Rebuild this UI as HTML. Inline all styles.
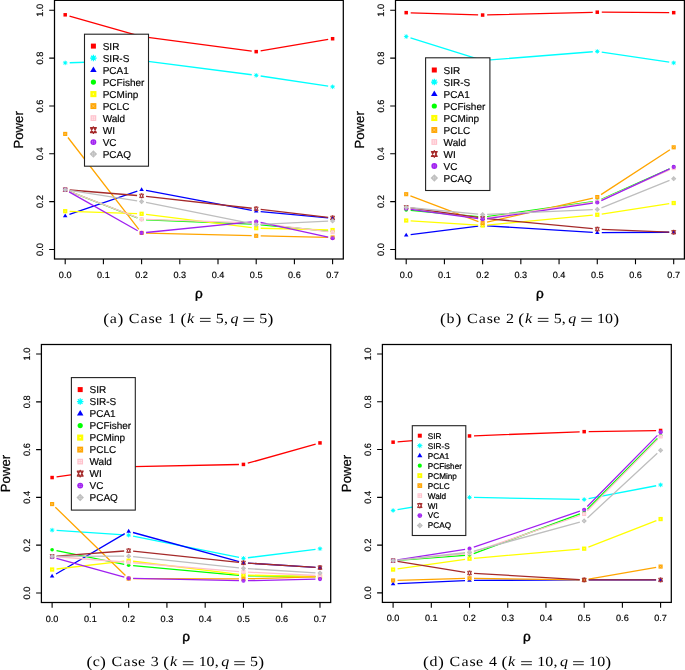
<!DOCTYPE html>
<html><head><meta charset="utf-8"><style>
html,body{margin:0;padding:0;background:#fff;}
body{width:685px;height:670px;overflow:hidden;}
svg{display:block;will-change:transform;}
text{text-rendering:geometricPrecision;}
.s{font-family:"Liberation Sans",sans-serif;fill:#000;}
.c{font-family:"Liberation Serif",serif;fill:#000;}
.t{stroke:#000;stroke-width:0.17px;}
.t2{stroke:#000;stroke-width:0.22px;}
.t3{stroke:#000;stroke-width:0.4px;}
</style></head><body>
<svg width="685" height="670" viewBox="0 0 685 670">
<rect width="685" height="670" fill="#fff"/>
<path d="M69.52 16.04L137.27 35.34M146.06 37.16L251.74 51.06M260.64 50.89L328.17 39.48" stroke="#FF0000" stroke-width="1.3" fill="none"/>
<rect x="63.45" y="13.06" width="3.5" height="3.5" fill="#FF0000"/>
<rect x="139.85" y="34.82" width="3.5" height="3.5" fill="#FF0000"/>
<rect x="254.45" y="49.89" width="3.5" height="3.5" fill="#FF0000"/>
<rect x="330.85" y="36.98" width="3.5" height="3.5" fill="#FF0000"/>
<path d="M69.69 62.74L137.1 60.63M146.06 61.07L251.74 74.74M260.65 75.99L328.15 86.13" stroke="#00FFFF" stroke-width="1.3" fill="none"/>
<path d="M62.92 62.88H67.47M65.2 60.61V65.16M63.59 61.27L66.8 64.49M63.59 64.49L66.8 61.27" stroke="#00FFFF" stroke-width="0.88" fill="none"/><circle cx="65.2" cy="62.88" r="1.31" fill="#00FFFF"/>
<path d="M139.32 60.49H143.87M141.6 58.22V62.77M139.99 58.88L143.21 62.1M139.99 62.1L143.21 58.88" stroke="#00FFFF" stroke-width="0.88" fill="none"/><circle cx="141.6" cy="60.49" r="1.31" fill="#00FFFF"/>
<path d="M253.93 75.32H258.48M256.2 73.04V77.59M254.59 73.71L257.81 76.93M254.59 76.93L257.81 73.71" stroke="#00FFFF" stroke-width="0.88" fill="none"/><circle cx="256.2" cy="75.32" r="1.31" fill="#00FFFF"/>
<path d="M330.33 86.8H334.88M332.6 84.52V89.07M331 85.19L334.21 88.41M331 88.41L334.21 85.19" stroke="#00FFFF" stroke-width="0.88" fill="none"/><circle cx="332.6" cy="86.8" r="1.31" fill="#00FFFF"/>
<path d="M69.45 214.48L137.34 191.11M146.02 190.47L251.78 210.34M260.68 211.59L328.12 217.92" stroke="#0000FF" stroke-width="1.3" fill="none"/>
<path d="M65.2 213.5L67.47 217.35L62.92 217.35Z" fill="#0000FF"/>
<path d="M141.6 187.19L143.87 191.04L139.32 191.04Z" fill="#0000FF"/>
<path d="M256.2 208.72L258.48 212.57L253.93 212.57Z" fill="#0000FF"/>
<path d="M332.6 215.89L334.88 219.74L330.33 219.74Z" fill="#0000FF"/>
<path d="M69.39 191.28L137.41 217.9M146.09 219.73L251.71 224.13M260.68 224.74L328.12 231.08" stroke="#00FF00" stroke-width="1.3" fill="none"/>
<circle cx="65.2" cy="189.64" r="1.82" fill="#00FF00"/>
<circle cx="141.6" cy="219.54" r="1.82" fill="#00FF00"/>
<circle cx="256.2" cy="224.32" r="1.82" fill="#00FF00"/>
<circle cx="332.6" cy="231.5" r="1.82" fill="#00FF00"/>
<path d="M69.69 211.32L137.1 213.64M146.06 214.36L251.74 227.59M260.7 228.26L328.11 229.95" stroke="#FFFF00" stroke-width="1.3" fill="none"/>
<rect x="63.06" y="209.03" width="4.27" height="4.27" fill="#FFFF00"/><rect x="64.76" y="210.73" width="0.88" height="0.88" fill="#fff" opacity="0.7"/>
<rect x="139.46" y="211.66" width="4.27" height="4.27" fill="#FFFF00"/><rect x="141.16" y="213.36" width="0.88" height="0.88" fill="#fff" opacity="0.7"/>
<rect x="254.07" y="226.01" width="4.27" height="4.27" fill="#FFFF00"/><rect x="255.76" y="227.71" width="0.88" height="0.88" fill="#fff" opacity="0.7"/>
<rect x="330.47" y="227.93" width="4.27" height="4.27" fill="#FFFF00"/><rect x="332.17" y="229.62" width="0.88" height="0.88" fill="#fff" opacity="0.7"/>
<path d="M67.95 137.48L138.85 229.37M146.1 233.04L251.7 235.69M260.7 235.9L328.1 237.38" stroke="#FFA500" stroke-width="1.3" fill="none"/>
<rect x="63.13" y="131.85" width="4.13" height="4.13" fill="#FFA500"/><path d="M64.06 132.78L66.33 135.05M64.06 135.05L66.33 132.78" stroke="#ffd9a0" stroke-width="0.39"/>
<rect x="139.53" y="230.87" width="4.13" height="4.13" fill="#FFA500"/><path d="M140.46 231.8L142.73 234.07M140.46 234.07L142.73 231.8" stroke="#ffd9a0" stroke-width="0.39"/>
<rect x="254.14" y="233.74" width="4.13" height="4.13" fill="#FFA500"/><path d="M255.07 234.67L257.34 236.94M255.07 236.94L257.34 234.67" stroke="#ffd9a0" stroke-width="0.39"/>
<rect x="330.54" y="235.41" width="4.13" height="4.13" fill="#FFA500"/><path d="M331.47 236.34L333.74 238.61M331.47 238.61L333.74 236.34" stroke="#ffd9a0" stroke-width="0.39"/>
<path d="M69.39 191.27L137.4 217.67M146.1 219.45L251.7 222.97M260.67 223.66L328.14 231.68" stroke="#FFC0CB" stroke-width="1.3" fill="none"/>
<rect x="63.2" y="187.65" width="3.99" height="3.99" fill="#FFC0CB"/><rect x="64" y="188.44" width="1" height="1" fill="#fff" opacity="0.6"/><rect x="65.39" y="188.44" width="1" height="1" fill="#fff" opacity="0.6"/><rect x="64" y="189.83" width="1" height="1" fill="#fff" opacity="0.6"/><rect x="65.39" y="189.83" width="1" height="1" fill="#fff" opacity="0.6"/>
<rect x="139.6" y="217.3" width="3.99" height="3.99" fill="#FFC0CB"/><rect x="140.4" y="218.1" width="1" height="1" fill="#fff" opacity="0.6"/><rect x="141.79" y="218.1" width="1" height="1" fill="#fff" opacity="0.6"/><rect x="140.4" y="219.49" width="1" height="1" fill="#fff" opacity="0.6"/><rect x="141.79" y="219.49" width="1" height="1" fill="#fff" opacity="0.6"/>
<rect x="254.21" y="221.13" width="3.99" height="3.99" fill="#FFC0CB"/><rect x="255" y="221.93" width="1" height="1" fill="#fff" opacity="0.6"/><rect x="256.39" y="221.93" width="1" height="1" fill="#fff" opacity="0.6"/><rect x="255" y="223.32" width="1" height="1" fill="#fff" opacity="0.6"/><rect x="256.39" y="223.32" width="1" height="1" fill="#fff" opacity="0.6"/>
<rect x="330.61" y="230.22" width="3.99" height="3.99" fill="#FFC0CB"/><rect x="331.41" y="231.02" width="1" height="1" fill="#fff" opacity="0.6"/><rect x="332.8" y="231.02" width="1" height="1" fill="#fff" opacity="0.6"/><rect x="331.41" y="232.41" width="1" height="1" fill="#fff" opacity="0.6"/><rect x="332.8" y="232.41" width="1" height="1" fill="#fff" opacity="0.6"/>
<path d="M69.68 190.01L137.11 195.49M146.07 196.36L251.73 208.27M260.67 209.31L328.14 217.33" stroke="#A52A2A" stroke-width="1.3" fill="none"/>
<path d="M65.2 187.32L67.21 191.38L63.18 191.38ZM65.2 191.97L67.21 187.9L63.18 187.9Z" stroke="#A52A2A" stroke-width="0.88" fill="none" stroke-linejoin="round"/>
<path d="M141.6 193.54L143.61 197.6L139.59 197.6ZM141.6 198.18L143.61 194.12L139.59 194.12Z" stroke="#A52A2A" stroke-width="0.88" fill="none" stroke-linejoin="round"/>
<path d="M256.2 206.45L258.21 210.52L254.19 210.52ZM256.2 211.1L258.21 207.03L254.19 207.03Z" stroke="#A52A2A" stroke-width="0.88" fill="none" stroke-linejoin="round"/>
<path d="M332.6 215.54L334.62 219.61L330.59 219.61ZM332.6 220.19L334.62 216.12L330.59 216.12Z" stroke="#A52A2A" stroke-width="0.88" fill="none" stroke-linejoin="round"/>
<path d="M69.11 191.86L137.68 230.71M146.08 232.48L251.72 221.9M260.6 222.41L328.21 237.23" stroke="#A020F0" stroke-width="1.3" fill="none"/>
<circle cx="65.2" cy="189.64" r="2.06" fill="#A020F0"/><path d="M64.27 188.71h0.62v0.62h-0.62zM65.51 188.71h0.62v0.62h-0.62zM64.27 189.95h0.62v0.62h-0.62zM65.51 189.95h0.62v0.62h-0.62z" fill="#fff" opacity="0.45"/>
<circle cx="141.6" cy="232.93" r="2.06" fill="#A020F0"/><path d="M140.67 232h0.62v0.62h-0.62zM141.91 232h0.62v0.62h-0.62zM140.67 233.24h0.62v0.62h-0.62zM141.91 233.24h0.62v0.62h-0.62z" fill="#fff" opacity="0.45"/>
<circle cx="256.2" cy="221.45" r="2.06" fill="#A020F0"/><path d="M255.27 220.52h0.62v0.62h-0.62zM256.51 220.52h0.62v0.62h-0.62zM255.27 221.76h0.62v0.62h-0.62zM256.51 221.76h0.62v0.62h-0.62z" fill="#fff" opacity="0.45"/>
<circle cx="332.6" cy="238.19" r="2.06" fill="#A020F0"/><path d="M331.67 237.26h0.62v0.62h-0.62zM332.91 237.26h0.62v0.62h-0.62zM331.67 238.5h0.62v0.62h-0.62zM332.91 238.5h0.62v0.62h-0.62z" fill="#fff" opacity="0.45"/>
<path d="M69.64 190.34L137.15 200.9M146.01 202.48L251.79 223.68M260.7 224.35L328.11 221.18" stroke="#BEBEBE" stroke-width="1.3" fill="none"/>
<path d="M65.2 187.02L67.82 189.64L65.2 192.27L62.57 189.64Z" fill="#BEBEBE"/><path d="M64.28 188.72h0.66v0.66h-0.66zM65.46 188.72h0.66v0.66h-0.66zM64.28 189.9h0.66v0.66h-0.66zM65.46 189.9h0.66v0.66h-0.66z" fill="#fff" opacity="0.45"/>
<path d="M141.6 198.97L144.22 201.6L141.6 204.22L138.97 201.6Z" fill="#BEBEBE"/><path d="M140.68 200.68h0.66v0.66h-0.66zM141.86 200.68h0.66v0.66h-0.66zM140.68 201.86h0.66v0.66h-0.66zM141.86 201.86h0.66v0.66h-0.66z" fill="#fff" opacity="0.45"/>
<path d="M256.2 221.94L258.83 224.56L256.2 227.19L253.58 224.56Z" fill="#BEBEBE"/><path d="M255.28 223.64h0.66v0.66h-0.66zM256.46 223.64h0.66v0.66h-0.66zM255.28 224.82h0.66v0.66h-0.66zM256.46 224.82h0.66v0.66h-0.66z" fill="#fff" opacity="0.45"/>
<path d="M332.6 218.35L335.23 220.97L332.6 223.6L329.98 220.97Z" fill="#BEBEBE"/><path d="M331.68 220.05h0.66v0.66h-0.66zM332.87 220.05h0.66v0.66h-0.66zM331.68 221.23h0.66v0.66h-0.66zM332.87 221.23h0.66v0.66h-0.66z" fill="#fff" opacity="0.45"/>
<rect x="84.5" y="34.2" width="64" height="132" fill="#fff" stroke="#222" stroke-width="1.1"/>
<rect x="90.9" y="43.6" width="5" height="5" fill="#FF0000"/>
<text x="102.7" y="49.7" font-size="10.0" class="s t">SIR</text>
<path d="M90.15 58.1H96.65M93.4 54.85V61.35M91.1 55.8L95.7 60.4M91.1 60.4L95.7 55.8" stroke="#00FFFF" stroke-width="1.25" fill="none"/><circle cx="93.4" cy="58.1" r="1.88" fill="#00FFFF"/>
<text x="102.7" y="61.7" font-size="10.0" class="s t">SIR-S</text>
<path d="M93.4 66.6L96.65 72.1L90.15 72.1Z" fill="#0000FF"/>
<text x="102.7" y="73.7" font-size="10.0" class="s t">PCA1</text>
<circle cx="93.4" cy="82.1" r="2.6" fill="#00FF00"/>
<text x="102.7" y="85.7" font-size="10.0" class="s t">PCFisher</text>
<rect x="90.35" y="91.05" width="6.1" height="6.1" fill="#FFFF00"/><rect x="92.78" y="93.47" width="1.25" height="1.25" fill="#fff" opacity="0.7"/>
<text x="102.7" y="97.7" font-size="10.0" class="s t">PCMinp</text>
<rect x="90.45" y="103.15" width="5.9" height="5.9" fill="#FFA500"/><path d="M91.78 104.48L95.02 107.72M91.78 107.72L95.02 104.48" stroke="#ffd9a0" stroke-width="0.55"/>
<text x="102.7" y="109.7" font-size="10.0" class="s t">PCLC</text>
<rect x="90.55" y="115.25" width="5.7" height="5.7" fill="#FFC0CB"/><rect x="91.69" y="116.39" width="1.43" height="1.43" fill="#fff" opacity="0.6"/><rect x="93.68" y="116.39" width="1.43" height="1.43" fill="#fff" opacity="0.6"/><rect x="91.69" y="118.38" width="1.43" height="1.43" fill="#fff" opacity="0.6"/><rect x="93.68" y="118.38" width="1.43" height="1.43" fill="#fff" opacity="0.6"/>
<text x="102.7" y="121.7" font-size="10.0" class="s t">Wald</text>
<path d="M93.4 126.78L96.28 132.59L90.53 132.59ZM93.4 133.42L96.28 127.61L90.53 127.61Z" stroke="#A52A2A" stroke-width="1.25" fill="none" stroke-linejoin="round"/>
<text x="102.7" y="133.7" font-size="10.0" class="s t">WI</text>
<circle cx="93.4" cy="142.1" r="2.95" fill="#A020F0"/><path d="M92.07 140.77h0.88v0.88h-0.88zM93.84 140.77h0.88v0.88h-0.88zM92.07 142.54h0.88v0.88h-0.88zM93.84 142.54h0.88v0.88h-0.88z" fill="#fff" opacity="0.45"/>
<text x="102.7" y="145.7" font-size="10.0" class="s t">VC</text>
<path d="M93.4 150.35L97.15 154.1L93.4 157.85L89.65 154.1Z" fill="#BEBEBE"/><path d="M92.09 152.79h0.94v0.94h-0.94zM93.78 152.79h0.94v0.94h-0.94zM92.09 154.47h0.94v0.94h-0.94zM93.78 154.47h0.94v0.94h-0.94z" fill="#fff" opacity="0.45"/>
<text x="102.7" y="157.7" font-size="10.0" class="s t">PCAQ</text>
<rect x="54.5" y="0.35" width="288.8" height="258.65" fill="none" stroke="#000" stroke-width="1.25"/>
<text x="65.2" y="278" font-size="9.1" text-anchor="middle" class="s t">0.0</text>
<text x="103.4" y="278" font-size="9.1" text-anchor="middle" class="s t">0.1</text>
<text x="141.6" y="278" font-size="9.1" text-anchor="middle" class="s t">0.2</text>
<text x="179.8" y="278" font-size="9.1" text-anchor="middle" class="s t">0.3</text>
<text x="218" y="278" font-size="9.1" text-anchor="middle" class="s t">0.4</text>
<text x="256.2" y="278" font-size="9.1" text-anchor="middle" class="s t">0.5</text>
<text x="294.4" y="278" font-size="9.1" text-anchor="middle" class="s t">0.6</text>
<text x="332.6" y="278" font-size="9.1" text-anchor="middle" class="s t">0.7</text>
<text transform="translate(43,249.43) rotate(-90)" font-size="9.3" text-anchor="middle" class="s t">0.0</text>
<text transform="translate(43,201.6) rotate(-90)" font-size="9.3" text-anchor="middle" class="s t">0.2</text>
<text transform="translate(43,153.77) rotate(-90)" font-size="9.3" text-anchor="middle" class="s t">0.4</text>
<text transform="translate(43,105.93) rotate(-90)" font-size="9.3" text-anchor="middle" class="s t">0.6</text>
<text transform="translate(43,58.1) rotate(-90)" font-size="9.3" text-anchor="middle" class="s t">0.8</text>
<text transform="translate(43,10.27) rotate(-90)" font-size="9.3" text-anchor="middle" class="s t">1.0</text>
<path d="M65.2 259V264.3M103.4 259V264.3M141.6 259V264.3M179.8 259V264.3M218 259V264.3M256.2 259V264.3M294.4 259V264.3M332.6 259V264.3M54.5 249.43H49.2M54.5 201.6H49.2M54.5 153.77H49.2M54.5 105.93H49.2M54.5 58.1H49.2M54.5 10.27H49.2" stroke="#000" stroke-width="1.1"/>
<text transform="translate(23.2,129.85) rotate(-90)" font-size="13.2" text-anchor="middle" class="s t2">Power</text>
<text x="198.9" y="297.5" font-size="13.6" text-anchor="middle" class="s t3">ρ</text>
<text transform="translate(106.15,323.6) scale(1.14,1)" font-size="15.4" text-anchor="middle" class="c">(</text>
<text transform="translate(113.3,323) scale(1.14,1)" font-size="14" text-anchor="middle" class="c">a</text>
<text transform="translate(120.45,323.6) scale(1.14,1)" font-size="15.4" text-anchor="middle" class="c">)</text>
<text transform="translate(133.96,323) scale(1.14,1)" font-size="14" text-anchor="middle" class="c">C</text>
<text transform="translate(144.11,323) scale(1.14,1)" font-size="14" text-anchor="middle" class="c">a</text>
<text transform="translate(151.54,323) scale(1.14,1)" font-size="14" text-anchor="middle" class="c">s</text>
<text transform="translate(158.5,323) scale(1.14,1)" font-size="14" text-anchor="middle" class="c">e</text>
<text transform="translate(171.87,323) scale(1.14,1)" font-size="14" text-anchor="middle" class="c">1</text>
<text transform="translate(183.33,323.6) scale(1.14,1)" font-size="15.4" text-anchor="middle" class="c">(</text>
<text transform="translate(190.55,323) scale(1.14,1)" font-size="14" text-anchor="middle" class="c" font-style="italic">k</text>
<rect x="199.96" y="317.9" width="10.64" height="0.85" fill="#000"/><rect x="199.96" y="320.9" width="10.64" height="0.85" fill="#000"/>
<text transform="translate(219.83,323) scale(1.14,1)" font-size="14" text-anchor="middle" class="c">5</text>
<text transform="translate(226.01,323) scale(1.14,1)" font-size="14" text-anchor="middle" class="c">,</text>
<text transform="translate(234.52,323) scale(1.14,1)" font-size="14" text-anchor="middle" class="c" font-style="italic">q</text>
<rect x="243.44" y="317.9" width="10.64" height="0.85" fill="#000"/><rect x="243.44" y="320.9" width="10.64" height="0.85" fill="#000"/>
<text transform="translate(263.31,323) scale(1.14,1)" font-size="14" text-anchor="middle" class="c">5</text>
<text transform="translate(270.37,323.6) scale(1.14,1)" font-size="15.4" text-anchor="middle" class="c">)</text>
<path d="M410.7 12.8L478.13 14.91M487.13 14.94L592.77 12.29M601.77 12.21L669.2 12.63" stroke="#FF0000" stroke-width="1.3" fill="none"/>
<rect x="404.45" y="10.91" width="3.5" height="3.5" fill="#FF0000"/>
<rect x="480.88" y="13.3" width="3.5" height="3.5" fill="#FF0000"/>
<rect x="595.52" y="10.43" width="3.5" height="3.5" fill="#FF0000"/>
<rect x="671.95" y="10.91" width="3.5" height="3.5" fill="#FF0000"/>
<path d="M410.49 37.92L478.33 59.15M487.11 60.14L592.79 51.76M601.72 52.07L669.25 62.21" stroke="#00FFFF" stroke-width="1.3" fill="none"/>
<path d="M403.93 36.57H408.47M406.2 34.3V38.85M404.59 34.97L407.81 38.18M404.59 38.18L407.81 34.97" stroke="#00FFFF" stroke-width="0.88" fill="none"/><circle cx="406.2" cy="36.57" r="1.31" fill="#00FFFF"/>
<path d="M480.35 60.49H484.9M482.63 58.22V62.77M481.02 58.88L484.24 62.1M481.02 62.1L484.24 58.88" stroke="#00FFFF" stroke-width="0.88" fill="none"/><circle cx="482.63" cy="60.49" r="1.31" fill="#00FFFF"/>
<path d="M595 51.4H599.55M597.27 49.13V53.68M595.66 49.79L598.88 53.01M595.66 53.01L598.88 49.79" stroke="#00FFFF" stroke-width="0.88" fill="none"/><circle cx="597.27" cy="51.4" r="1.31" fill="#00FFFF"/>
<path d="M671.43 62.88H675.98M673.7 60.61V65.16M672.09 61.27L675.31 64.49M672.09 64.49L675.31 61.27" stroke="#00FFFF" stroke-width="0.88" fill="none"/><circle cx="673.7" cy="62.88" r="1.31" fill="#00FFFF"/>
<path d="M410.67 234.52L478.16 226.08M487.12 225.8L592.78 232.41M601.77 232.66L669.2 232.24" stroke="#0000FF" stroke-width="1.3" fill="none"/>
<path d="M406.2 232.63L408.47 236.48L403.93 236.48Z" fill="#0000FF"/>
<path d="M482.63 223.07L484.9 226.92L480.35 226.92Z" fill="#0000FF"/>
<path d="M597.27 230.24L599.55 234.09L595 234.09Z" fill="#0000FF"/>
<path d="M673.7 229.76L675.98 233.61L671.43 233.61Z" fill="#0000FF"/>
<path d="M410.68 210.39L478.15 216.73M487.09 216.52L592.81 201.74M601.38 199.28L669.59 168.76" stroke="#00FF00" stroke-width="1.3" fill="none"/>
<circle cx="406.2" cy="209.97" r="1.82" fill="#00FF00"/>
<circle cx="482.63" cy="217.15" r="1.82" fill="#00FF00"/>
<circle cx="597.27" cy="201.12" r="1.82" fill="#00FF00"/>
<circle cx="673.7" cy="166.92" r="1.82" fill="#00FF00"/>
<path d="M410.69 220.79L478.14 225.22M487.11 225.1L592.79 215.17M601.72 214.07L669.25 203.72" stroke="#FFFF00" stroke-width="1.3" fill="none"/>
<rect x="404.06" y="218.36" width="4.27" height="4.27" fill="#FFFF00"/><rect x="405.76" y="220.06" width="0.88" height="0.88" fill="#fff" opacity="0.7"/>
<rect x="480.49" y="223.38" width="4.27" height="4.27" fill="#FFFF00"/><rect x="482.19" y="225.08" width="0.88" height="0.88" fill="#fff" opacity="0.7"/>
<rect x="595.14" y="212.62" width="4.27" height="4.27" fill="#FFFF00"/><rect x="596.83" y="214.32" width="0.88" height="0.88" fill="#fff" opacity="0.7"/>
<rect x="671.57" y="200.9" width="4.27" height="4.27" fill="#FFFF00"/><rect x="673.26" y="202.6" width="0.88" height="0.88" fill="#fff" opacity="0.7"/>
<path d="M410.41 195.78L478.42 221.53M487.02 222.13L592.88 198.05M601.04 194.6L669.93 149.76" stroke="#FFA500" stroke-width="1.3" fill="none"/>
<rect x="404.13" y="192.12" width="4.13" height="4.13" fill="#FFA500"/><path d="M405.06 193.05L407.34 195.32M405.06 195.32L407.34 193.05" stroke="#ffd9a0" stroke-width="0.39"/>
<rect x="480.56" y="221.06" width="4.13" height="4.13" fill="#FFA500"/><path d="M481.49 221.99L483.76 224.26M481.49 224.26L483.76 221.99" stroke="#ffd9a0" stroke-width="0.39"/>
<rect x="595.21" y="194.99" width="4.13" height="4.13" fill="#FFA500"/><path d="M596.14 195.92L598.41 198.19M596.14 198.19L598.41 195.92" stroke="#ffd9a0" stroke-width="0.39"/>
<rect x="671.63" y="145.24" width="4.13" height="4.13" fill="#FFA500"/><path d="M672.56 146.17L674.84 148.44M672.56 148.44L674.84 146.17" stroke="#ffd9a0" stroke-width="0.39"/>
<path d="M410.65 207.98L478.17 217.7M487.08 217.69L592.82 202.25M601.39 199.79L669.58 169.92" stroke="#FFC0CB" stroke-width="1.3" fill="none"/>
<rect x="404.2" y="205.34" width="3.99" height="3.99" fill="#FFC0CB"/><rect x="405" y="206.14" width="1" height="1" fill="#fff" opacity="0.6"/><rect x="406.39" y="206.14" width="1" height="1" fill="#fff" opacity="0.6"/><rect x="405" y="207.53" width="1" height="1" fill="#fff" opacity="0.6"/><rect x="406.39" y="207.53" width="1" height="1" fill="#fff" opacity="0.6"/>
<rect x="480.63" y="216.35" width="3.99" height="3.99" fill="#FFC0CB"/><rect x="481.43" y="217.14" width="1" height="1" fill="#fff" opacity="0.6"/><rect x="482.82" y="217.14" width="1" height="1" fill="#fff" opacity="0.6"/><rect x="481.43" y="218.53" width="1" height="1" fill="#fff" opacity="0.6"/><rect x="482.82" y="218.53" width="1" height="1" fill="#fff" opacity="0.6"/>
<rect x="595.28" y="199.6" width="3.99" height="3.99" fill="#FFC0CB"/><rect x="596.07" y="200.4" width="1" height="1" fill="#fff" opacity="0.6"/><rect x="597.46" y="200.4" width="1" height="1" fill="#fff" opacity="0.6"/><rect x="596.07" y="201.79" width="1" height="1" fill="#fff" opacity="0.6"/><rect x="597.46" y="201.79" width="1" height="1" fill="#fff" opacity="0.6"/>
<rect x="671.71" y="166.12" width="3.99" height="3.99" fill="#FFC0CB"/><rect x="672.5" y="166.92" width="1" height="1" fill="#fff" opacity="0.6"/><rect x="673.89" y="166.92" width="1" height="1" fill="#fff" opacity="0.6"/><rect x="672.5" y="168.31" width="1" height="1" fill="#fff" opacity="0.6"/><rect x="673.89" y="168.31" width="1" height="1" fill="#fff" opacity="0.6"/>
<path d="M410.66 207.97L478.17 217.48M487.11 218.53L592.79 228.67M601.77 229.29L669.2 232.03" stroke="#A52A2A" stroke-width="1.3" fill="none"/>
<path d="M406.2 205.02L408.21 209.08L404.19 209.08ZM406.2 209.66L408.21 205.6L404.19 205.6Z" stroke="#A52A2A" stroke-width="0.88" fill="none" stroke-linejoin="round"/>
<path d="M482.63 215.78L484.64 219.85L480.62 219.85ZM482.63 220.43L484.64 216.36L480.62 216.36Z" stroke="#A52A2A" stroke-width="0.88" fill="none" stroke-linejoin="round"/>
<path d="M597.27 226.78L599.28 230.85L595.26 230.85ZM597.27 231.43L599.28 227.36L595.26 227.36Z" stroke="#A52A2A" stroke-width="0.88" fill="none" stroke-linejoin="round"/>
<path d="M673.7 229.89L675.71 233.96L671.69 233.96ZM673.7 234.54L675.71 230.47L671.69 230.47Z" stroke="#A52A2A" stroke-width="0.88" fill="none" stroke-linejoin="round"/>
<path d="M410.66 209.39L478.17 218.68M487.08 218.65L592.82 203.21M601.35 200.66L669.62 168.82" stroke="#A020F0" stroke-width="1.3" fill="none"/>
<circle cx="406.2" cy="208.78" r="2.06" fill="#A020F0"/><path d="M405.27 207.85h0.62v0.62h-0.62zM406.51 207.85h0.62v0.62h-0.62zM405.27 209.08h0.62v0.62h-0.62zM406.51 209.08h0.62v0.62h-0.62z" fill="#fff" opacity="0.45"/>
<circle cx="482.63" cy="219.3" r="2.06" fill="#A020F0"/><path d="M481.7 218.37h0.62v0.62h-0.62zM482.94 218.37h0.62v0.62h-0.62zM481.7 219.61h0.62v0.62h-0.62zM482.94 219.61h0.62v0.62h-0.62z" fill="#fff" opacity="0.45"/>
<circle cx="597.27" cy="202.56" r="2.06" fill="#A020F0"/><path d="M596.34 201.63h0.62v0.62h-0.62zM597.58 201.63h0.62v0.62h-0.62zM596.34 202.87h0.62v0.62h-0.62zM597.58 202.87h0.62v0.62h-0.62z" fill="#fff" opacity="0.45"/>
<circle cx="673.7" cy="166.92" r="2.06" fill="#A020F0"/><path d="M672.77 165.99h0.62v0.62h-0.62zM674.01 165.99h0.62v0.62h-0.62zM672.77 167.23h0.62v0.62h-0.62zM674.01 167.23h0.62v0.62h-0.62z" fill="#fff" opacity="0.45"/>
<path d="M410.68 207.76L478.15 214.09M487.12 214.32L592.78 209.69M601.44 207.81L669.53 180.32" stroke="#BEBEBE" stroke-width="1.3" fill="none"/>
<path d="M406.2 204.72L408.82 207.34L406.2 209.97L403.57 207.34Z" fill="#BEBEBE"/><path d="M405.28 206.42h0.66v0.66h-0.66zM406.46 206.42h0.66v0.66h-0.66zM405.28 207.6h0.66v0.66h-0.66zM406.46 207.6h0.66v0.66h-0.66z" fill="#fff" opacity="0.45"/>
<path d="M482.63 211.89L485.25 214.51L482.63 217.14L480 214.51Z" fill="#BEBEBE"/><path d="M481.71 213.6h0.66v0.66h-0.66zM482.89 213.6h0.66v0.66h-0.66zM481.71 214.78h0.66v0.66h-0.66zM482.89 214.78h0.66v0.66h-0.66z" fill="#fff" opacity="0.45"/>
<path d="M597.27 206.87L599.9 209.49L597.27 212.12L594.65 209.49Z" fill="#BEBEBE"/><path d="M596.35 208.57h0.66v0.66h-0.66zM597.53 208.57h0.66v0.66h-0.66zM596.35 209.75h0.66v0.66h-0.66zM597.53 209.75h0.66v0.66h-0.66z" fill="#fff" opacity="0.45"/>
<path d="M673.7 176.02L676.33 178.64L673.7 181.27L671.08 178.64Z" fill="#BEBEBE"/><path d="M672.78 177.72h0.66v0.66h-0.66zM673.96 177.72h0.66v0.66h-0.66zM672.78 178.9h0.66v0.66h-0.66zM673.96 178.9h0.66v0.66h-0.66z" fill="#fff" opacity="0.45"/>
<rect x="425.6" y="57.8" width="64.3" height="132.7" fill="#fff" stroke="#222" stroke-width="1.1"/>
<rect x="431.8" y="67.5" width="5" height="5" fill="#FF0000"/>
<text x="443.6" y="73.6" font-size="10.0" class="s t">SIR</text>
<path d="M431.05 82H437.55M434.3 78.75V85.25M432 79.7L436.6 84.3M432 84.3L436.6 79.7" stroke="#00FFFF" stroke-width="1.25" fill="none"/><circle cx="434.3" cy="82" r="1.88" fill="#00FFFF"/>
<text x="443.6" y="85.6" font-size="10.0" class="s t">SIR-S</text>
<path d="M434.3 90.5L437.55 96L431.05 96Z" fill="#0000FF"/>
<text x="443.6" y="97.6" font-size="10.0" class="s t">PCA1</text>
<circle cx="434.3" cy="106" r="2.6" fill="#00FF00"/>
<text x="443.6" y="109.6" font-size="10.0" class="s t">PCFisher</text>
<rect x="431.25" y="114.95" width="6.1" height="6.1" fill="#FFFF00"/><rect x="433.68" y="117.38" width="1.25" height="1.25" fill="#fff" opacity="0.7"/>
<text x="443.6" y="121.6" font-size="10.0" class="s t">PCMinp</text>
<rect x="431.35" y="127.05" width="5.9" height="5.9" fill="#FFA500"/><path d="M432.68 128.38L435.92 131.62M432.68 131.62L435.92 128.38" stroke="#ffd9a0" stroke-width="0.55"/>
<text x="443.6" y="133.6" font-size="10.0" class="s t">PCLC</text>
<rect x="431.45" y="139.15" width="5.7" height="5.7" fill="#FFC0CB"/><rect x="432.59" y="140.29" width="1.43" height="1.43" fill="#fff" opacity="0.6"/><rect x="434.57" y="140.29" width="1.43" height="1.43" fill="#fff" opacity="0.6"/><rect x="432.59" y="142.28" width="1.43" height="1.43" fill="#fff" opacity="0.6"/><rect x="434.57" y="142.28" width="1.43" height="1.43" fill="#fff" opacity="0.6"/>
<text x="443.6" y="145.6" font-size="10.0" class="s t">Wald</text>
<path d="M434.3 150.68L437.18 156.49L431.43 156.49ZM434.3 157.32L437.18 151.51L431.43 151.51Z" stroke="#A52A2A" stroke-width="1.25" fill="none" stroke-linejoin="round"/>
<text x="443.6" y="157.6" font-size="10.0" class="s t">WI</text>
<circle cx="434.3" cy="166" r="2.95" fill="#A020F0"/><path d="M432.97 164.67h0.88v0.88h-0.88zM434.74 164.67h0.88v0.88h-0.88zM432.97 166.44h0.88v0.88h-0.88zM434.74 166.44h0.88v0.88h-0.88z" fill="#fff" opacity="0.45"/>
<text x="443.6" y="169.6" font-size="10.0" class="s t">VC</text>
<path d="M434.3 174.25L438.05 178L434.3 181.75L430.55 178Z" fill="#BEBEBE"/><path d="M432.99 176.69h0.94v0.94h-0.94zM434.68 176.69h0.94v0.94h-0.94zM432.99 178.38h0.94v0.94h-0.94zM434.68 178.38h0.94v0.94h-0.94z" fill="#fff" opacity="0.45"/>
<text x="443.6" y="181.6" font-size="10.0" class="s t">PCAQ</text>
<rect x="395.5" y="0.35" width="288.9" height="258.65" fill="none" stroke="#000" stroke-width="1.25"/>
<text x="406.2" y="278" font-size="9.1" text-anchor="middle" class="s t">0.0</text>
<text x="444.41" y="278" font-size="9.1" text-anchor="middle" class="s t">0.1</text>
<text x="482.63" y="278" font-size="9.1" text-anchor="middle" class="s t">0.2</text>
<text x="520.84" y="278" font-size="9.1" text-anchor="middle" class="s t">0.3</text>
<text x="559.06" y="278" font-size="9.1" text-anchor="middle" class="s t">0.4</text>
<text x="597.27" y="278" font-size="9.1" text-anchor="middle" class="s t">0.5</text>
<text x="635.49" y="278" font-size="9.1" text-anchor="middle" class="s t">0.6</text>
<text x="673.7" y="278" font-size="9.1" text-anchor="middle" class="s t">0.7</text>
<text transform="translate(384,249.43) rotate(-90)" font-size="9.3" text-anchor="middle" class="s t">0.0</text>
<text transform="translate(384,201.6) rotate(-90)" font-size="9.3" text-anchor="middle" class="s t">0.2</text>
<text transform="translate(384,153.77) rotate(-90)" font-size="9.3" text-anchor="middle" class="s t">0.4</text>
<text transform="translate(384,105.93) rotate(-90)" font-size="9.3" text-anchor="middle" class="s t">0.6</text>
<text transform="translate(384,58.1) rotate(-90)" font-size="9.3" text-anchor="middle" class="s t">0.8</text>
<text transform="translate(384,10.27) rotate(-90)" font-size="9.3" text-anchor="middle" class="s t">1.0</text>
<path d="M406.2 259V264.3M444.41 259V264.3M482.63 259V264.3M520.84 259V264.3M559.06 259V264.3M597.27 259V264.3M635.49 259V264.3M673.7 259V264.3M395.5 249.43H390.2M395.5 201.6H390.2M395.5 153.77H390.2M395.5 105.93H390.2M395.5 58.1H390.2M395.5 10.27H390.2" stroke="#000" stroke-width="1.1"/>
<text transform="translate(364.2,129.85) rotate(-90)" font-size="13.2" text-anchor="middle" class="s t2">Power</text>
<text x="539.95" y="297.5" font-size="13.6" text-anchor="middle" class="s t3">ρ</text>
<text transform="translate(442.88,323.6) scale(1.14,1)" font-size="15.4" text-anchor="middle" class="c">(</text>
<text transform="translate(450.6,323) scale(1.14,1)" font-size="14" text-anchor="middle" class="c">b</text>
<text transform="translate(458.32,323.6) scale(1.14,1)" font-size="15.4" text-anchor="middle" class="c">)</text>
<text transform="translate(472.25,323) scale(1.14,1)" font-size="14" text-anchor="middle" class="c">C</text>
<text transform="translate(482.38,323) scale(1.14,1)" font-size="14" text-anchor="middle" class="c">a</text>
<text transform="translate(489.79,323) scale(1.14,1)" font-size="14" text-anchor="middle" class="c">s</text>
<text transform="translate(496.73,323) scale(1.14,1)" font-size="14" text-anchor="middle" class="c">e</text>
<text transform="translate(510.08,323) scale(1.14,1)" font-size="14" text-anchor="middle" class="c">2</text>
<text transform="translate(521.23,323.6) scale(1.14,1)" font-size="15.4" text-anchor="middle" class="c">(</text>
<text transform="translate(528.44,323) scale(1.14,1)" font-size="14" text-anchor="middle" class="c" font-style="italic">k</text>
<rect x="537.83" y="317.9" width="10.62" height="0.85" fill="#000"/><rect x="537.83" y="320.9" width="10.62" height="0.85" fill="#000"/>
<text transform="translate(557.68,323) scale(1.14,1)" font-size="14" text-anchor="middle" class="c">5</text>
<text transform="translate(563.85,323) scale(1.14,1)" font-size="14" text-anchor="middle" class="c">,</text>
<text transform="translate(572.34,323) scale(1.14,1)" font-size="14" text-anchor="middle" class="c" font-style="italic">q</text>
<rect x="581.25" y="317.9" width="10.62" height="0.85" fill="#000"/><rect x="581.25" y="320.9" width="10.62" height="0.85" fill="#000"/>
<text transform="translate(601.1,323) scale(1.14,1)" font-size="14" text-anchor="middle" class="c">1</text>
<text transform="translate(609.03,323) scale(1.14,1)" font-size="14" text-anchor="middle" class="c">0</text>
<text transform="translate(616.07,323.6) scale(1.14,1)" font-size="15.4" text-anchor="middle" class="c">)</text>
<path d="M56.57 476.94L124.19 467.44M133.15 466.72L238.95 464.52M247.78 463.21L315.65 444.14" stroke="#FF0000" stroke-width="1.3" fill="none"/>
<rect x="50.36" y="475.81" width="3.5" height="3.5" fill="#FF0000"/>
<rect x="126.9" y="465.06" width="3.5" height="3.5" fill="#FF0000"/>
<rect x="241.7" y="462.67" width="3.5" height="3.5" fill="#FF0000"/>
<rect x="318.24" y="441.17" width="3.5" height="3.5" fill="#FF0000"/>
<path d="M56.61 530.41L124.16 534.84M133.06 536.02L239.04 557.42M247.92 557.75L315.52 549.31" stroke="#00FFFF" stroke-width="1.3" fill="none"/>
<path d="M49.84 530.12H54.39M52.11 527.84V532.39M50.51 528.51L53.72 531.73M50.51 531.73L53.72 528.51" stroke="#00FFFF" stroke-width="0.88" fill="none"/><circle cx="52.11" cy="530.12" r="1.31" fill="#00FFFF"/>
<path d="M126.37 535.13H130.92M128.65 532.86V537.41M127.04 533.52L130.26 536.74M127.04 536.74L130.26 533.52" stroke="#00FFFF" stroke-width="0.88" fill="none"/><circle cx="128.65" cy="535.13" r="1.31" fill="#00FFFF"/>
<path d="M241.18 558.31H245.73M243.45 556.03V560.58M241.84 556.7L245.06 559.91M241.84 559.91L245.06 556.7" stroke="#00FFFF" stroke-width="0.88" fill="none"/><circle cx="243.45" cy="558.31" r="1.31" fill="#00FFFF"/>
<path d="M317.71 548.75H322.26M319.99 546.48V551.02M318.38 547.14L321.59 550.36M318.38 550.36L321.59 547.14" stroke="#00FFFF" stroke-width="0.88" fill="none"/><circle cx="319.99" cy="548.75" r="1.31" fill="#00FFFF"/>
<path d="M56 573.94L124.77 533.59M132.99 532.5L239.11 561.65M247.94 563.12L315.49 567.34" stroke="#0000FF" stroke-width="1.3" fill="none"/>
<path d="M52.11 573.77L54.39 577.62L49.84 577.62Z" fill="#0000FF"/>
<path d="M128.65 528.86L130.92 532.71L126.37 532.71Z" fill="#0000FF"/>
<path d="M243.45 560.39L245.73 564.24L241.18 564.24Z" fill="#0000FF"/>
<path d="M319.99 565.17L322.26 569.02L317.71 569.02Z" fill="#0000FF"/>
<path d="M56.52 550.6L124.24 564.34M133.13 565.64L238.97 575.33M247.95 575.8L315.49 576.64" stroke="#00FF00" stroke-width="1.3" fill="none"/>
<circle cx="52.11" cy="549.71" r="1.82" fill="#00FF00"/>
<circle cx="128.65" cy="565.23" r="1.82" fill="#00FF00"/>
<circle cx="243.45" cy="575.74" r="1.82" fill="#00FF00"/>
<circle cx="319.99" cy="576.7" r="1.82" fill="#00FF00"/>
<path d="M56.59 569.02L124.18 561.21M133.11 561.25L238.99 574.47M247.95 575.13L315.49 576.6" stroke="#FFFF00" stroke-width="1.3" fill="none"/>
<rect x="49.98" y="567.4" width="4.27" height="4.27" fill="#FFFF00"/><rect x="51.68" y="569.1" width="0.88" height="0.88" fill="#fff" opacity="0.7"/>
<rect x="126.51" y="558.56" width="4.27" height="4.27" fill="#FFFF00"/><rect x="128.21" y="560.26" width="0.88" height="0.88" fill="#fff" opacity="0.7"/>
<rect x="241.32" y="572.89" width="4.27" height="4.27" fill="#FFFF00"/><rect x="243.01" y="574.59" width="0.88" height="0.88" fill="#fff" opacity="0.7"/>
<rect x="317.85" y="574.57" width="4.27" height="4.27" fill="#FFFF00"/><rect x="319.55" y="576.26" width="0.88" height="0.88" fill="#fff" opacity="0.7"/>
<path d="M55.34 507.22L125.43 575.47M133.15 578.62L238.95 578.84M247.95 578.72L315.49 576.83" stroke="#FFA500" stroke-width="1.3" fill="none"/>
<rect x="50.05" y="502.01" width="4.13" height="4.13" fill="#FFA500"/><path d="M50.98 502.94L53.25 505.21M50.98 505.21L53.25 502.94" stroke="#ffd9a0" stroke-width="0.39"/>
<rect x="126.58" y="576.55" width="4.13" height="4.13" fill="#FFA500"/><path d="M127.51 577.48L129.78 579.75M127.51 579.75L129.78 577.48" stroke="#ffd9a0" stroke-width="0.39"/>
<rect x="241.39" y="576.78" width="4.13" height="4.13" fill="#FFA500"/><path d="M242.32 577.71L244.59 579.99M242.32 579.99L244.59 577.71" stroke="#ffd9a0" stroke-width="0.39"/>
<rect x="317.92" y="574.63" width="4.13" height="4.13" fill="#FFA500"/><path d="M318.85 575.56L321.12 577.84M318.85 577.84L321.12 575.56" stroke="#ffd9a0" stroke-width="0.39"/>
<path d="M56.6 556.74L124.16 562.02M133.13 562.74L238.97 571.55M247.95 572.15L315.49 575.52" stroke="#FFC0CB" stroke-width="1.3" fill="none"/>
<rect x="50.12" y="554.4" width="3.99" height="3.99" fill="#FFC0CB"/><rect x="50.92" y="555.2" width="1" height="1" fill="#fff" opacity="0.6"/><rect x="52.31" y="555.2" width="1" height="1" fill="#fff" opacity="0.6"/><rect x="50.92" y="556.59" width="1" height="1" fill="#fff" opacity="0.6"/><rect x="52.31" y="556.59" width="1" height="1" fill="#fff" opacity="0.6"/>
<rect x="126.65" y="560.37" width="3.99" height="3.99" fill="#FFC0CB"/><rect x="127.45" y="561.17" width="1" height="1" fill="#fff" opacity="0.6"/><rect x="128.84" y="561.17" width="1" height="1" fill="#fff" opacity="0.6"/><rect x="127.45" y="562.56" width="1" height="1" fill="#fff" opacity="0.6"/><rect x="128.84" y="562.56" width="1" height="1" fill="#fff" opacity="0.6"/>
<rect x="241.46" y="569.93" width="3.99" height="3.99" fill="#FFC0CB"/><rect x="242.25" y="570.73" width="1" height="1" fill="#fff" opacity="0.6"/><rect x="243.64" y="570.73" width="1" height="1" fill="#fff" opacity="0.6"/><rect x="242.25" y="572.11" width="1" height="1" fill="#fff" opacity="0.6"/><rect x="243.64" y="572.11" width="1" height="1" fill="#fff" opacity="0.6"/>
<rect x="317.99" y="573.75" width="3.99" height="3.99" fill="#FFC0CB"/><rect x="318.79" y="574.55" width="1" height="1" fill="#fff" opacity="0.6"/><rect x="320.18" y="574.55" width="1" height="1" fill="#fff" opacity="0.6"/><rect x="318.79" y="575.94" width="1" height="1" fill="#fff" opacity="0.6"/><rect x="320.18" y="575.94" width="1" height="1" fill="#fff" opacity="0.6"/>
<path d="M56.6 556.06L124.16 551M133.12 551.14L238.98 562.37M247.94 563.12L315.49 567.34" stroke="#A52A2A" stroke-width="1.3" fill="none"/>
<path d="M52.11 554.07L54.13 558.14L50.1 558.14ZM52.11 558.72L54.13 554.65L50.1 554.65Z" stroke="#A52A2A" stroke-width="0.88" fill="none" stroke-linejoin="round"/>
<path d="M128.65 548.34L130.66 552.4L126.64 552.4ZM128.65 552.98L130.66 548.92L126.64 548.92Z" stroke="#A52A2A" stroke-width="0.88" fill="none" stroke-linejoin="round"/>
<path d="M243.45 560.52L245.46 564.59L241.44 564.59ZM243.45 565.17L245.46 561.1L241.44 561.1Z" stroke="#A52A2A" stroke-width="0.88" fill="none" stroke-linejoin="round"/>
<path d="M319.99 565.3L322 569.37L317.97 569.37ZM319.99 569.95L322 565.88L317.97 565.88Z" stroke="#A52A2A" stroke-width="0.88" fill="none" stroke-linejoin="round"/>
<path d="M56.45 558.32L124.31 577.17M133.15 578.47L238.95 580.67M247.95 580.66L315.49 579.19" stroke="#A020F0" stroke-width="1.3" fill="none"/>
<circle cx="52.11" cy="557.11" r="2.06" fill="#A020F0"/><path d="M51.19 556.18h0.62v0.62h-0.62zM52.42 556.18h0.62v0.62h-0.62zM51.19 557.42h0.62v0.62h-0.62zM52.42 557.42h0.62v0.62h-0.62z" fill="#fff" opacity="0.45"/>
<circle cx="128.65" cy="578.37" r="2.06" fill="#A020F0"/><path d="M127.72 577.44h0.62v0.62h-0.62zM128.96 577.44h0.62v0.62h-0.62zM127.72 578.68h0.62v0.62h-0.62zM128.96 578.68h0.62v0.62h-0.62z" fill="#fff" opacity="0.45"/>
<circle cx="243.45" cy="580.76" r="2.06" fill="#A020F0"/><path d="M242.52 579.83h0.62v0.62h-0.62zM243.76 579.83h0.62v0.62h-0.62zM242.52 581.07h0.62v0.62h-0.62zM243.76 581.07h0.62v0.62h-0.62z" fill="#fff" opacity="0.45"/>
<circle cx="319.99" cy="579.09" r="2.06" fill="#A020F0"/><path d="M319.06 578.16h0.62v0.62h-0.62zM320.29 578.16h0.62v0.62h-0.62zM319.06 579.4h0.62v0.62h-0.62zM320.29 579.4h0.62v0.62h-0.62z" fill="#fff" opacity="0.45"/>
<path d="M56.61 556.38L124.15 556.17M133.12 556.63L238.98 567.86M247.94 568.62L315.49 572.84" stroke="#BEBEBE" stroke-width="1.3" fill="none"/>
<path d="M52.11 553.77L54.74 556.39L52.11 559.02L49.49 556.39Z" fill="#BEBEBE"/><path d="M51.2 555.48h0.66v0.66h-0.66zM52.38 555.48h0.66v0.66h-0.66zM51.2 556.66h0.66v0.66h-0.66zM52.38 556.66h0.66v0.66h-0.66z" fill="#fff" opacity="0.45"/>
<path d="M128.65 553.53L131.27 556.16L128.65 558.78L126.02 556.16Z" fill="#BEBEBE"/><path d="M127.73 555.24h0.66v0.66h-0.66zM128.91 555.24h0.66v0.66h-0.66zM127.73 556.42h0.66v0.66h-0.66zM128.91 556.42h0.66v0.66h-0.66z" fill="#fff" opacity="0.45"/>
<path d="M243.45 565.71L246.08 568.34L243.45 570.96L240.83 568.34Z" fill="#BEBEBE"/><path d="M242.53 567.42h0.66v0.66h-0.66zM243.71 567.42h0.66v0.66h-0.66zM242.53 568.6h0.66v0.66h-0.66zM243.71 568.6h0.66v0.66h-0.66z" fill="#fff" opacity="0.45"/>
<path d="M319.99 570.49L322.61 573.12L319.99 575.74L317.36 573.12Z" fill="#BEBEBE"/><path d="M319.07 572.2h0.66v0.66h-0.66zM320.25 572.2h0.66v0.66h-0.66zM319.07 573.38h0.66v0.66h-0.66zM320.25 573.38h0.66v0.66h-0.66z" fill="#fff" opacity="0.45"/>
<rect x="71.4" y="377.6" width="63.9" height="132.5" fill="#fff" stroke="#222" stroke-width="1.1"/>
<rect x="77.7" y="387.1" width="5" height="5" fill="#FF0000"/>
<text x="89.5" y="393.2" font-size="10.0" class="s t">SIR</text>
<path d="M76.95 401.6H83.45M80.2 398.35V404.85M77.9 399.3L82.5 403.9M77.9 403.9L82.5 399.3" stroke="#00FFFF" stroke-width="1.25" fill="none"/><circle cx="80.2" cy="401.6" r="1.88" fill="#00FFFF"/>
<text x="89.5" y="405.2" font-size="10.0" class="s t">SIR-S</text>
<path d="M80.2 410.1L83.45 415.6L76.95 415.6Z" fill="#0000FF"/>
<text x="89.5" y="417.2" font-size="10.0" class="s t">PCA1</text>
<circle cx="80.2" cy="425.6" r="2.6" fill="#00FF00"/>
<text x="89.5" y="429.2" font-size="10.0" class="s t">PCFisher</text>
<rect x="77.15" y="434.55" width="6.1" height="6.1" fill="#FFFF00"/><rect x="79.58" y="436.98" width="1.25" height="1.25" fill="#fff" opacity="0.7"/>
<text x="89.5" y="441.2" font-size="10.0" class="s t">PCMinp</text>
<rect x="77.25" y="446.65" width="5.9" height="5.9" fill="#FFA500"/><path d="M78.58 447.98L81.82 451.22M78.58 451.22L81.82 447.98" stroke="#ffd9a0" stroke-width="0.55"/>
<text x="89.5" y="453.2" font-size="10.0" class="s t">PCLC</text>
<rect x="77.35" y="458.75" width="5.7" height="5.7" fill="#FFC0CB"/><rect x="78.49" y="459.89" width="1.43" height="1.43" fill="#fff" opacity="0.6"/><rect x="80.48" y="459.89" width="1.43" height="1.43" fill="#fff" opacity="0.6"/><rect x="78.49" y="461.88" width="1.43" height="1.43" fill="#fff" opacity="0.6"/><rect x="80.48" y="461.88" width="1.43" height="1.43" fill="#fff" opacity="0.6"/>
<text x="89.5" y="465.2" font-size="10.0" class="s t">Wald</text>
<path d="M80.2 470.28L83.08 476.09L77.33 476.09ZM80.2 476.92L83.08 471.11L77.33 471.11Z" stroke="#A52A2A" stroke-width="1.25" fill="none" stroke-linejoin="round"/>
<text x="89.5" y="477.2" font-size="10.0" class="s t">WI</text>
<circle cx="80.2" cy="485.6" r="2.95" fill="#A020F0"/><path d="M78.87 484.27h0.88v0.88h-0.88zM80.64 484.27h0.88v0.88h-0.88zM78.87 486.04h0.88v0.88h-0.88zM80.64 486.04h0.88v0.88h-0.88z" fill="#fff" opacity="0.45"/>
<text x="89.5" y="489.2" font-size="10.0" class="s t">VC</text>
<path d="M80.2 493.85L83.95 497.6L80.2 501.35L76.45 497.6Z" fill="#BEBEBE"/><path d="M78.89 496.29h0.94v0.94h-0.94zM80.58 496.29h0.94v0.94h-0.94zM78.89 497.98h0.94v0.94h-0.94zM80.58 497.98h0.94v0.94h-0.94z" fill="#fff" opacity="0.45"/>
<text x="89.5" y="501.2" font-size="10.0" class="s t">PCAQ</text>
<rect x="41.4" y="344.5" width="289.3" height="258" fill="none" stroke="#000" stroke-width="1.25"/>
<text x="52.11" y="621.5" font-size="9.1" text-anchor="middle" class="s t">0.0</text>
<text x="90.38" y="621.5" font-size="9.1" text-anchor="middle" class="s t">0.1</text>
<text x="128.65" y="621.5" font-size="9.1" text-anchor="middle" class="s t">0.2</text>
<text x="166.92" y="621.5" font-size="9.1" text-anchor="middle" class="s t">0.3</text>
<text x="205.18" y="621.5" font-size="9.1" text-anchor="middle" class="s t">0.4</text>
<text x="243.45" y="621.5" font-size="9.1" text-anchor="middle" class="s t">0.5</text>
<text x="281.72" y="621.5" font-size="9.1" text-anchor="middle" class="s t">0.6</text>
<text x="319.99" y="621.5" font-size="9.1" text-anchor="middle" class="s t">0.7</text>
<text transform="translate(29.9,592.94) rotate(-90)" font-size="9.3" text-anchor="middle" class="s t">0.0</text>
<text transform="translate(29.9,545.17) rotate(-90)" font-size="9.3" text-anchor="middle" class="s t">0.2</text>
<text transform="translate(29.9,497.39) rotate(-90)" font-size="9.3" text-anchor="middle" class="s t">0.4</text>
<text transform="translate(29.9,449.61) rotate(-90)" font-size="9.3" text-anchor="middle" class="s t">0.6</text>
<text transform="translate(29.9,401.83) rotate(-90)" font-size="9.3" text-anchor="middle" class="s t">0.8</text>
<text transform="translate(29.9,354.06) rotate(-90)" font-size="9.3" text-anchor="middle" class="s t">1.0</text>
<path d="M52.11 602.5V607.8M90.38 602.5V607.8M128.65 602.5V607.8M166.92 602.5V607.8M205.18 602.5V607.8M243.45 602.5V607.8M281.72 602.5V607.8M319.99 602.5V607.8M41.4 592.94H36.1M41.4 545.17H36.1M41.4 497.39H36.1M41.4 449.61H36.1M41.4 401.83H36.1M41.4 354.06H36.1" stroke="#000" stroke-width="1.1"/>
<text transform="translate(10.1,473.5) rotate(-90)" font-size="13.2" text-anchor="middle" class="s t2">Power</text>
<text x="186.05" y="641" font-size="13.6" text-anchor="middle" class="s t3">ρ</text>
<text transform="translate(89.38,667) scale(1.14,1)" font-size="15.4" text-anchor="middle" class="c">(</text>
<text transform="translate(96.2,666.4) scale(1.14,1)" font-size="14" text-anchor="middle" class="c">c</text>
<text transform="translate(103.02,667) scale(1.14,1)" font-size="15.4" text-anchor="middle" class="c">)</text>
<text transform="translate(116.95,666.4) scale(1.14,1)" font-size="14" text-anchor="middle" class="c">C</text>
<text transform="translate(127.08,666.4) scale(1.14,1)" font-size="14" text-anchor="middle" class="c">a</text>
<text transform="translate(134.49,666.4) scale(1.14,1)" font-size="14" text-anchor="middle" class="c">s</text>
<text transform="translate(141.43,666.4) scale(1.14,1)" font-size="14" text-anchor="middle" class="c">e</text>
<text transform="translate(154.78,666.4) scale(1.14,1)" font-size="14" text-anchor="middle" class="c">3</text>
<text transform="translate(166.23,667) scale(1.14,1)" font-size="15.4" text-anchor="middle" class="c">(</text>
<text transform="translate(173.44,666.4) scale(1.14,1)" font-size="14" text-anchor="middle" class="c" font-style="italic">k</text>
<rect x="182.83" y="661.3" width="10.62" height="0.85" fill="#000"/><rect x="182.83" y="664.3" width="10.62" height="0.85" fill="#000"/>
<text transform="translate(202.68,666.4) scale(1.14,1)" font-size="14" text-anchor="middle" class="c">1</text>
<text transform="translate(210.61,666.4) scale(1.14,1)" font-size="14" text-anchor="middle" class="c">0</text>
<text transform="translate(216.78,666.4) scale(1.14,1)" font-size="14" text-anchor="middle" class="c">,</text>
<text transform="translate(225.27,666.4) scale(1.14,1)" font-size="14" text-anchor="middle" class="c" font-style="italic">q</text>
<rect x="234.18" y="661.3" width="10.62" height="0.85" fill="#000"/><rect x="234.18" y="664.3" width="10.62" height="0.85" fill="#000"/>
<text transform="translate(254.03,666.4) scale(1.14,1)" font-size="14" text-anchor="middle" class="c">5</text>
<text transform="translate(261.07,667) scale(1.14,1)" font-size="15.4" text-anchor="middle" class="c">)</text>
<path d="M397.59 441.8L465.04 436.32M474.03 435.79L579.67 431.83M588.67 431.59L656.1 430.54" stroke="#FF0000" stroke-width="1.3" fill="none"/>
<rect x="391.35" y="440.42" width="3.5" height="3.5" fill="#FF0000"/>
<rect x="467.78" y="434.21" width="3.5" height="3.5" fill="#FF0000"/>
<rect x="582.42" y="429.91" width="3.5" height="3.5" fill="#FF0000"/>
<rect x="658.85" y="428.72" width="3.5" height="3.5" fill="#FF0000"/>
<path d="M397.53 509.7L465.09 498.09M474.03 497.41L579.67 499.39M588.59 498.64L656.18 485.75" stroke="#00FFFF" stroke-width="1.3" fill="none"/>
<path d="M390.82 510.46H395.37M393.1 508.19V512.74M391.49 508.85L394.71 512.07M391.49 512.07L394.71 508.85" stroke="#00FFFF" stroke-width="0.88" fill="none"/><circle cx="393.1" cy="510.46" r="1.31" fill="#00FFFF"/>
<path d="M467.25 497.33H471.8M469.53 495.05V499.6M467.92 495.72L471.14 498.94M467.92 498.94L471.14 495.72" stroke="#00FFFF" stroke-width="0.88" fill="none"/><circle cx="469.53" cy="497.33" r="1.31" fill="#00FFFF"/>
<path d="M581.9 499.48H586.45M584.17 497.2V501.75M582.56 497.87L585.78 501.09M582.56 501.09L585.78 497.87" stroke="#00FFFF" stroke-width="0.88" fill="none"/><circle cx="584.17" cy="499.48" r="1.31" fill="#00FFFF"/>
<path d="M658.32 484.91H662.87M660.6 482.64V487.19M658.99 483.3L662.21 486.52M658.99 486.52L662.21 483.3" stroke="#00FFFF" stroke-width="0.88" fill="none"/><circle cx="660.6" cy="484.91" r="1.31" fill="#00FFFF"/>
<path d="M397.6 583.69L465.03 580.63M474.03 580.41L579.67 579.97M588.67 579.95L656.1 579.95" stroke="#0000FF" stroke-width="1.3" fill="none"/>
<path d="M393.1 581.44L395.37 585.29L390.82 585.29Z" fill="#0000FF"/>
<path d="M469.53 577.98L471.8 581.83L467.25 581.83Z" fill="#0000FF"/>
<path d="M584.17 577.5L586.45 581.35L581.9 581.35Z" fill="#0000FF"/>
<path d="M660.6 577.5L662.87 581.35L658.32 581.35Z" fill="#0000FF"/>
<path d="M397.59 560.29L465.04 555.44M473.75 553.55L579.95 513.95M587.34 509.18L657.43 438.44" stroke="#00FF00" stroke-width="1.3" fill="none"/>
<circle cx="393.1" cy="560.61" r="1.82" fill="#00FF00"/>
<circle cx="469.53" cy="555.12" r="1.82" fill="#00FF00"/>
<circle cx="584.17" cy="512.37" r="1.82" fill="#00FF00"/>
<circle cx="660.6" cy="435.24" r="1.82" fill="#00FF00"/>
<path d="M397.56 568.93L465.07 559.33M474.01 558.31L579.69 549.06M588.37 547.05L656.4 520.69" stroke="#FFFF00" stroke-width="1.3" fill="none"/>
<rect x="390.96" y="567.43" width="4.27" height="4.27" fill="#FFFF00"/><rect x="392.66" y="569.13" width="0.88" height="0.88" fill="#fff" opacity="0.7"/>
<rect x="467.39" y="556.57" width="4.27" height="4.27" fill="#FFFF00"/><rect x="469.09" y="558.26" width="0.88" height="0.88" fill="#fff" opacity="0.7"/>
<rect x="582.04" y="546.54" width="4.27" height="4.27" fill="#FFFF00"/><rect x="583.73" y="548.23" width="0.88" height="0.88" fill="#fff" opacity="0.7"/>
<rect x="658.46" y="516.93" width="4.27" height="4.27" fill="#FFFF00"/><rect x="660.16" y="518.62" width="0.88" height="0.88" fill="#fff" opacity="0.7"/>
<path d="M397.6 580.3L465.03 578.41M474.03 578.35L579.67 579.89M588.6 579.18L656.17 567.36" stroke="#FFA500" stroke-width="1.3" fill="none"/>
<rect x="391.03" y="578.37" width="4.13" height="4.13" fill="#FFA500"/><path d="M391.96 579.29L394.24 581.57M391.96 581.57L394.24 579.29" stroke="#ffd9a0" stroke-width="0.39"/>
<rect x="467.46" y="576.22" width="4.13" height="4.13" fill="#FFA500"/><path d="M468.39 577.15L470.66 579.42M468.39 579.42L470.66 577.15" stroke="#ffd9a0" stroke-width="0.39"/>
<rect x="582.11" y="577.89" width="4.13" height="4.13" fill="#FFA500"/><path d="M583.04 578.82L585.31 581.09M583.04 581.09L585.31 578.82" stroke="#ffd9a0" stroke-width="0.39"/>
<rect x="658.53" y="564.52" width="4.13" height="4.13" fill="#FFA500"/><path d="M659.46 565.44L661.74 567.72M659.46 567.72L661.74 565.44" stroke="#ffd9a0" stroke-width="0.39"/>
<path d="M397.58 560.19L465.05 553.87M473.78 551.98L579.92 515.51M587.33 510.84L657.44 439.64" stroke="#FFC0CB" stroke-width="1.3" fill="none"/>
<rect x="391.1" y="558.62" width="3.99" height="3.99" fill="#FFC0CB"/><rect x="391.9" y="559.41" width="1" height="1" fill="#fff" opacity="0.6"/><rect x="393.29" y="559.41" width="1" height="1" fill="#fff" opacity="0.6"/><rect x="391.9" y="560.8" width="1" height="1" fill="#fff" opacity="0.6"/><rect x="393.29" y="560.8" width="1" height="1" fill="#fff" opacity="0.6"/>
<rect x="467.53" y="551.45" width="3.99" height="3.99" fill="#FFC0CB"/><rect x="468.33" y="552.25" width="1" height="1" fill="#fff" opacity="0.6"/><rect x="469.72" y="552.25" width="1" height="1" fill="#fff" opacity="0.6"/><rect x="468.33" y="553.64" width="1" height="1" fill="#fff" opacity="0.6"/><rect x="469.72" y="553.64" width="1" height="1" fill="#fff" opacity="0.6"/>
<rect x="582.18" y="512.05" width="3.99" height="3.99" fill="#FFC0CB"/><rect x="582.97" y="512.85" width="1" height="1" fill="#fff" opacity="0.6"/><rect x="584.36" y="512.85" width="1" height="1" fill="#fff" opacity="0.6"/><rect x="582.97" y="514.24" width="1" height="1" fill="#fff" opacity="0.6"/><rect x="584.36" y="514.24" width="1" height="1" fill="#fff" opacity="0.6"/>
<rect x="658.6" y="434.44" width="3.99" height="3.99" fill="#FFC0CB"/><rect x="659.4" y="435.24" width="1" height="1" fill="#fff" opacity="0.6"/><rect x="660.79" y="435.24" width="1" height="1" fill="#fff" opacity="0.6"/><rect x="659.4" y="436.63" width="1" height="1" fill="#fff" opacity="0.6"/><rect x="660.79" y="436.63" width="1" height="1" fill="#fff" opacity="0.6"/>
<path d="M397.54 561.33L465.09 572.31M474.02 573.3L579.68 579.68M588.67 579.95L656.1 579.95" stroke="#A52A2A" stroke-width="1.3" fill="none"/>
<path d="M393.1 558.29L395.11 562.35L391.09 562.35ZM393.1 562.93L395.11 558.87L391.09 558.87Z" stroke="#A52A2A" stroke-width="0.88" fill="none" stroke-linejoin="round"/>
<path d="M469.53 570.7L471.54 574.77L467.52 574.77ZM469.53 575.35L471.54 571.29L467.52 571.29Z" stroke="#A52A2A" stroke-width="0.88" fill="none" stroke-linejoin="round"/>
<path d="M584.17 577.63L586.18 581.7L582.16 581.7ZM584.17 582.28L586.18 578.21L582.16 578.21Z" stroke="#A52A2A" stroke-width="0.88" fill="none" stroke-linejoin="round"/>
<path d="M660.6 577.63L662.61 581.7L658.59 581.7ZM660.6 582.28L662.61 578.21L658.59 578.21Z" stroke="#A52A2A" stroke-width="0.88" fill="none" stroke-linejoin="round"/>
<path d="M397.55 559.92L465.08 549.37M473.79 547.22L579.91 511.19M587.33 506.54L657.44 435.34" stroke="#A020F0" stroke-width="1.3" fill="none"/>
<circle cx="393.1" cy="560.61" r="2.06" fill="#A020F0"/><path d="M392.17 559.68h0.62v0.62h-0.62zM393.41 559.68h0.62v0.62h-0.62zM392.17 560.92h0.62v0.62h-0.62zM393.41 560.92h0.62v0.62h-0.62z" fill="#fff" opacity="0.45"/>
<circle cx="469.53" cy="548.67" r="2.06" fill="#A020F0"/><path d="M468.6 547.74h0.62v0.62h-0.62zM469.84 547.74h0.62v0.62h-0.62zM468.6 548.98h0.62v0.62h-0.62zM469.84 548.98h0.62v0.62h-0.62z" fill="#fff" opacity="0.45"/>
<circle cx="584.17" cy="509.75" r="2.06" fill="#A020F0"/><path d="M583.24 508.82h0.62v0.62h-0.62zM584.48 508.82h0.62v0.62h-0.62zM583.24 510.06h0.62v0.62h-0.62zM584.48 510.06h0.62v0.62h-0.62z" fill="#fff" opacity="0.45"/>
<circle cx="660.6" cy="432.14" r="2.06" fill="#A020F0"/><path d="M659.67 431.21h0.62v0.62h-0.62zM660.91 431.21h0.62v0.62h-0.62zM659.67 432.45h0.62v0.62h-0.62zM660.91 432.45h0.62v0.62h-0.62z" fill="#fff" opacity="0.45"/>
<path d="M397.57 560.12L465.06 552.74M473.87 551.07L579.83 522.16M587.48 517.92L657.3 453.34" stroke="#BEBEBE" stroke-width="1.3" fill="none"/>
<path d="M393.1 557.99L395.72 560.61L393.1 563.24L390.47 560.61Z" fill="#BEBEBE"/><path d="M392.18 559.69h0.66v0.66h-0.66zM393.36 559.69h0.66v0.66h-0.66zM392.18 560.87h0.66v0.66h-0.66zM393.36 560.87h0.66v0.66h-0.66z" fill="#fff" opacity="0.45"/>
<path d="M469.53 549.63L472.15 552.25L469.53 554.88L466.9 552.25Z" fill="#BEBEBE"/><path d="M468.61 551.33h0.66v0.66h-0.66zM469.79 551.33h0.66v0.66h-0.66zM468.61 552.52h0.66v0.66h-0.66zM469.79 552.52h0.66v0.66h-0.66z" fill="#fff" opacity="0.45"/>
<path d="M584.17 518.35L586.8 520.97L584.17 523.6L581.55 520.97Z" fill="#BEBEBE"/><path d="M583.25 520.05h0.66v0.66h-0.66zM584.43 520.05h0.66v0.66h-0.66zM583.25 521.23h0.66v0.66h-0.66zM584.43 521.23h0.66v0.66h-0.66z" fill="#fff" opacity="0.45"/>
<path d="M660.6 447.66L663.22 450.29L660.6 452.91L657.97 450.29Z" fill="#BEBEBE"/><path d="M659.68 449.37h0.66v0.66h-0.66zM660.86 449.37h0.66v0.66h-0.66zM659.68 450.55h0.66v0.66h-0.66zM660.86 450.55h0.66v0.66h-0.66z" fill="#fff" opacity="0.45"/>
<rect x="412.3" y="425.7" width="53.5" height="109.8" fill="#fff" stroke="#222" stroke-width="1.1"/>
<rect x="417.8" y="433.7" width="4" height="4" fill="#FF0000"/>
<text x="427.8" y="438.65" font-size="8.2" class="s t2">SIR</text>
<path d="M417.2 445.68H422.4M419.8 443.08V448.28M417.96 443.84L421.64 447.52M417.96 447.52L421.64 443.84" stroke="#00FFFF" stroke-width="1" fill="none"/><circle cx="419.8" cy="445.68" r="1.5" fill="#00FFFF"/>
<text x="427.8" y="448.63" font-size="8.2" class="s t2">SIR-S</text>
<path d="M419.8 452.86L422.4 457.26L417.2 457.26Z" fill="#0000FF"/>
<text x="427.8" y="458.61" font-size="8.2" class="s t2">PCA1</text>
<circle cx="419.8" cy="465.64" r="2.08" fill="#00FF00"/>
<text x="427.8" y="468.59" font-size="8.2" class="s t2">PCFisher</text>
<rect x="417.36" y="473.18" width="4.88" height="4.88" fill="#FFFF00"/><rect x="419.3" y="475.12" width="1" height="1" fill="#fff" opacity="0.7"/>
<text x="427.8" y="478.57" font-size="8.2" class="s t2">PCMinp</text>
<rect x="417.44" y="483.24" width="4.72" height="4.72" fill="#FFA500"/><path d="M418.5 484.3L421.1 486.9M418.5 486.9L421.1 484.3" stroke="#ffd9a0" stroke-width="0.44"/>
<text x="427.8" y="488.55" font-size="8.2" class="s t2">PCLC</text>
<rect x="417.52" y="493.3" width="4.56" height="4.56" fill="#FFC0CB"/><rect x="418.43" y="494.21" width="1.15" height="1.15" fill="#fff" opacity="0.6"/><rect x="420.02" y="494.21" width="1.15" height="1.15" fill="#fff" opacity="0.6"/><rect x="418.43" y="495.8" width="1.15" height="1.15" fill="#fff" opacity="0.6"/><rect x="420.02" y="495.8" width="1.15" height="1.15" fill="#fff" opacity="0.6"/>
<text x="427.8" y="498.53" font-size="8.2" class="s t2">Wald</text>
<path d="M419.8 502.9L422.1 507.55L417.5 507.55ZM419.8 508.22L422.1 503.57L417.5 503.57Z" stroke="#A52A2A" stroke-width="1" fill="none" stroke-linejoin="round"/>
<text x="427.8" y="508.51" font-size="8.2" class="s t2">WI</text>
<circle cx="419.8" cy="515.54" r="2.36" fill="#A020F0"/><path d="M418.74 514.48h0.71v0.71h-0.71zM420.15 514.48h0.71v0.71h-0.71zM418.74 515.89h0.71v0.71h-0.71zM420.15 515.89h0.71v0.71h-0.71z" fill="#fff" opacity="0.45"/>
<text x="427.8" y="518.49" font-size="8.2" class="s t2">VC</text>
<path d="M419.8 522.52L422.8 525.52L419.8 528.52L416.8 525.52Z" fill="#BEBEBE"/><path d="M418.75 524.47h0.75v0.75h-0.75zM420.1 524.47h0.75v0.75h-0.75zM418.75 525.82h0.75v0.75h-0.75zM420.1 525.82h0.75v0.75h-0.75z" fill="#fff" opacity="0.45"/>
<text x="427.8" y="528.47" font-size="8.2" class="s t2">PCAQ</text>
<rect x="382.4" y="344.5" width="288.9" height="257.9" fill="none" stroke="#000" stroke-width="1.25"/>
<text x="393.1" y="621.4" font-size="9.1" text-anchor="middle" class="s t">0.0</text>
<text x="431.31" y="621.4" font-size="9.1" text-anchor="middle" class="s t">0.1</text>
<text x="469.53" y="621.4" font-size="9.1" text-anchor="middle" class="s t">0.2</text>
<text x="507.74" y="621.4" font-size="9.1" text-anchor="middle" class="s t">0.3</text>
<text x="545.96" y="621.4" font-size="9.1" text-anchor="middle" class="s t">0.4</text>
<text x="584.17" y="621.4" font-size="9.1" text-anchor="middle" class="s t">0.5</text>
<text x="622.39" y="621.4" font-size="9.1" text-anchor="middle" class="s t">0.6</text>
<text x="660.6" y="621.4" font-size="9.1" text-anchor="middle" class="s t">0.7</text>
<text transform="translate(370.9,592.85) rotate(-90)" font-size="9.3" text-anchor="middle" class="s t">0.0</text>
<text transform="translate(370.9,545.09) rotate(-90)" font-size="9.3" text-anchor="middle" class="s t">0.2</text>
<text transform="translate(370.9,497.33) rotate(-90)" font-size="9.3" text-anchor="middle" class="s t">0.4</text>
<text transform="translate(370.9,449.57) rotate(-90)" font-size="9.3" text-anchor="middle" class="s t">0.6</text>
<text transform="translate(370.9,401.81) rotate(-90)" font-size="9.3" text-anchor="middle" class="s t">0.8</text>
<text transform="translate(370.9,354.05) rotate(-90)" font-size="9.3" text-anchor="middle" class="s t">1.0</text>
<path d="M393.1 602.4V607.7M431.31 602.4V607.7M469.53 602.4V607.7M507.74 602.4V607.7M545.96 602.4V607.7M584.17 602.4V607.7M622.39 602.4V607.7M660.6 602.4V607.7M382.4 592.85H377.1M382.4 545.09H377.1M382.4 497.33H377.1M382.4 449.57H377.1M382.4 401.81H377.1M382.4 354.05H377.1" stroke="#000" stroke-width="1.1"/>
<text transform="translate(351.1,473.45) rotate(-90)" font-size="13.2" text-anchor="middle" class="s t2">Power</text>
<text x="526.85" y="640.9" font-size="13.6" text-anchor="middle" class="s t3">ρ</text>
<text transform="translate(425.84,667) scale(1.14,1)" font-size="15.4" text-anchor="middle" class="c">(</text>
<text transform="translate(433.4,666.4) scale(1.14,1)" font-size="14" text-anchor="middle" class="c">d</text>
<text transform="translate(440.96,667) scale(1.14,1)" font-size="15.4" text-anchor="middle" class="c">)</text>
<text transform="translate(454.87,666.4) scale(1.14,1)" font-size="14" text-anchor="middle" class="c">C</text>
<text transform="translate(465.07,666.4) scale(1.14,1)" font-size="14" text-anchor="middle" class="c">a</text>
<text transform="translate(472.53,666.4) scale(1.14,1)" font-size="14" text-anchor="middle" class="c">s</text>
<text transform="translate(479.53,666.4) scale(1.14,1)" font-size="14" text-anchor="middle" class="c">e</text>
<text transform="translate(492.96,666.4) scale(1.14,1)" font-size="14" text-anchor="middle" class="c">4</text>
<text transform="translate(504.35,667) scale(1.14,1)" font-size="15.4" text-anchor="middle" class="c">(</text>
<text transform="translate(511.64,666.4) scale(1.14,1)" font-size="14" text-anchor="middle" class="c" font-style="italic">k</text>
<rect x="521.13" y="661.3" width="10.74" height="0.85" fill="#000"/><rect x="521.13" y="664.3" width="10.74" height="0.85" fill="#000"/>
<text transform="translate(541.2,666.4) scale(1.14,1)" font-size="14" text-anchor="middle" class="c">1</text>
<text transform="translate(549.22,666.4) scale(1.14,1)" font-size="14" text-anchor="middle" class="c">0</text>
<text transform="translate(555.45,666.4) scale(1.14,1)" font-size="14" text-anchor="middle" class="c">,</text>
<text transform="translate(564.04,666.4) scale(1.14,1)" font-size="14" text-anchor="middle" class="c" font-style="italic">q</text>
<rect x="573.05" y="661.3" width="10.74" height="0.85" fill="#000"/><rect x="573.05" y="664.3" width="10.74" height="0.85" fill="#000"/>
<text transform="translate(593.11,666.4) scale(1.14,1)" font-size="14" text-anchor="middle" class="c">1</text>
<text transform="translate(601.13,666.4) scale(1.14,1)" font-size="14" text-anchor="middle" class="c">0</text>
<text transform="translate(608.25,667) scale(1.14,1)" font-size="15.4" text-anchor="middle" class="c">)</text>
</svg>
</body></html>
